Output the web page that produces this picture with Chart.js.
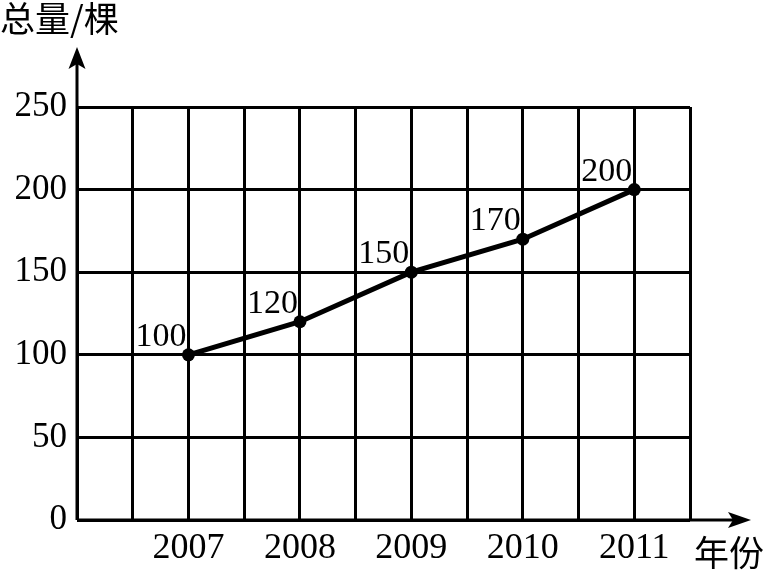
<!DOCTYPE html>
<html>
<head>
<meta charset="utf-8">
<script src="https://cdn.jsdelivr.net/npm/chart.js@4"></script>
<style>
  body { margin: 0; background: #fff; }
</style>
</head>
<body>
<canvas id="line1" width="767" height="571"></canvas>
<script>
var years = [2007, 2008, 2009, 2010, 2011];
var totals = [100, 120, 150, 170, 200];
var yTitle = '总量/棵';
var xTitle = '年份';

var serif = '"Liberation Serif", "Times New Roman", serif';
var cjk = '"Noto Sans CJK SC", sans-serif';

// arrows, axis titles and point labels
var extras = {
    id: 'extras',
    afterDraw: function (chart) {
        var ctx = chart.ctx;
        var xs = chart.scales.x, ys = chart.scales.y;
        var ox = xs.getPixelForValue(2006), oy = ys.getPixelForValue(0);
        ctx.save();
        ctx.strokeStyle = '#000';
        ctx.fillStyle = '#000';
        ctx.lineWidth = 3;
        ctx.beginPath();
        ctx.moveTo(ox, oy);
        ctx.lineTo(ox, 60);
        ctx.moveTo(ox, oy);
        ctx.lineTo(738, oy);
        ctx.stroke();
        // y arrow
        ctx.beginPath();
        ctx.moveTo(ox, 47);
        ctx.lineTo(ox + 8.5, 69);
        ctx.lineTo(ox, 64);
        ctx.lineTo(ox - 8.5, 69);
        ctx.closePath();
        ctx.fill();
        // x arrow
        ctx.beginPath();
        ctx.moveTo(751, oy);
        ctx.lineTo(728, oy - 8);
        ctx.lineTo(733, oy);
        ctx.lineTo(728, oy + 8);
        ctx.closePath();
        ctx.fill();

        ctx.font = '35px ' + cjk;
        ctx.textAlign = 'left';
        ctx.textBaseline = 'alphabetic';
        ctx.fillText(yTitle, 0, 32);
        ctx.fillText(xTitle, 694, 566);

        ctx.font = '34px ' + serif;
        ctx.textAlign = 'right';
        ctx.textBaseline = 'alphabetic';
        for (var i = 0; i < years.length; i++) {
            var px = xs.getPixelForValue(years[i]);
            var py = ys.getPixelForValue(totals[i]);
            ctx.fillText(String(totals[i]), px - 2, py - 9);
        }
        ctx.restore();
    }
};

var myLineChart = new Chart(document.getElementById('line1'), {
    type: 'line',
    data: {
        datasets: [{
            data: years.map(function (y, i) { return { x: y, y: totals[i] }; }),
            borderColor: '#000',
            backgroundColor: '#000',
            borderWidth: 5,
            pointRadius: 6.5,
            pointBackgroundColor: '#000',
            pointBorderWidth: 0,
            tension: 0
        }]
    },
    options: {
        responsive: false,
        animation: false,
        layout: { padding: { top: 107, right: 77, left: 0, bottom: 0 } },
        plugins: {
            legend: { display: false },
            tooltip: { enabled: false }
        },
        scales: {
            x: {
                type: 'linear',
                min: 2006,
                max: 2011.5,
                afterFit: function (s) { s.height = 51; },
                border: { display: false },
                grid: { color: '#000', lineWidth: 3, drawTicks: false },
                ticks: {
                    stepSize: 0.5,
                    autoSkip: false,
                    maxRotation: 0,
                    padding: 7,
                    color: '#000',
                    font: { family: serif, size: 36 },
                    callback: function (v) {
                        return (Number.isInteger(v) && v >= 2007) ? String(v) : '';
                    }
                }
            },
            y: {
                min: 0,
                max: 250,
                afterFit: function (s) { s.width = 77; },
                border: { display: false },
                grid: { color: '#000', lineWidth: 3, drawTicks: false },
                ticks: {
                    stepSize: 50,
                    padding: 10,
                    color: '#000',
                    font: { family: serif, size: 35 }
                }
            }
        }
    },
    plugins: [extras]
});
</script>
</body>
</html>
